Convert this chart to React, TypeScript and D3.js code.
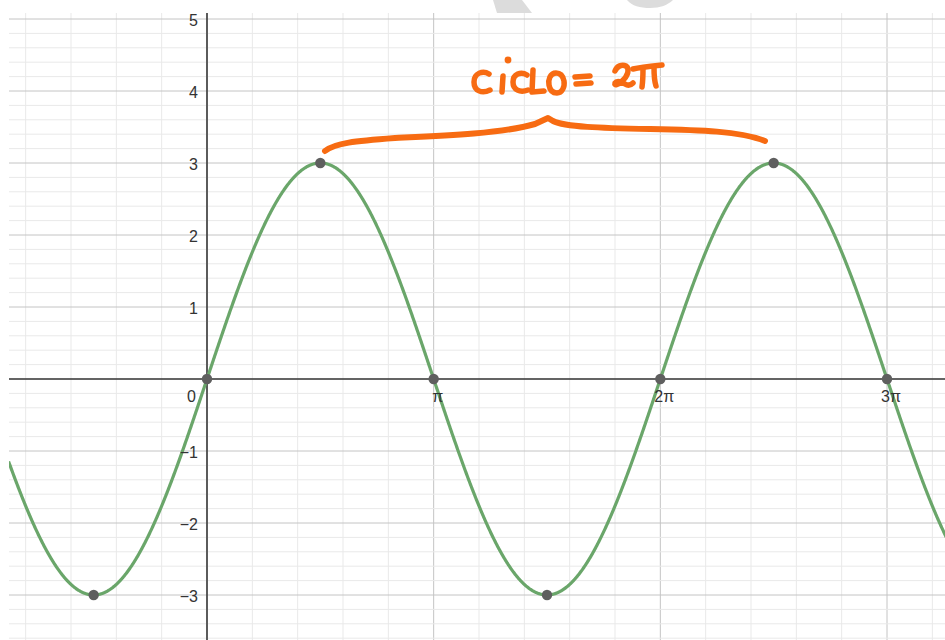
import React from "react";
import * as d3 from "d3";

// y = amplitude · sin(x), plotted over the visible window (x in radians)
const amplitude = 3;
const xWindow = [-2.75, 10.25];

// axis ticks
const xTickMultiplesOfPi = [0, 1, 2, 3];
const xTickLabels = ["0", "π", "2π", "3π"];
const yTickValues = [-3, -2, -1, 1, 2, 3, 4, 5];
const yTickLabels = ["−3", "−2", "−1", "1", "2", "3", "4", "5"];

// highlighted points (x as multiples of π)
const markedXPi = [-0.5, 0, 0.5, 1, 1.5, 2, 2.5, 3];
const markedY = [-3, 0, 3, 0, -3, 0, 3, 0];

const W = 945;
const H = 640;
const plotLeft = 9;
const plotTop = 13;

const x = d3.scaleLinear().domain([0, 3 * Math.PI]).range([207, 887]);
const y = d3.scaleLinear().domain([0, 5]).range([379, 19]);

const gridMinor = "#e9e9e9";
const gridMajor = "#c4c4c4";
const axisColor = "#3a3a3a";
const curveColor = "#6aa66a";
const pointColor = "#5f5f5f";
const inkColor = "#f76b12";
const labelFont = "'Liberation Sans', Arial, sans-serif";

export default function App() {
  const xMinV = x.invert(plotLeft);
  const xMaxV = x.invert(W);
  const yMaxV = y.invert(plotTop);
  const yMinV = y.invert(H);

  // grid: minor lines every π/5 horizontally and 0.2 vertically
  const vMinor: number[] = [];
  for (let k = Math.ceil(xMinV / (Math.PI / 5)); k * (Math.PI / 5) <= xMaxV; k++) vMinor.push(k);
  const hMinor: number[] = [];
  for (let k = Math.ceil(yMinV / 0.2); k * 0.2 <= yMaxV; k++) hMinor.push(k);

  const samples = d3.range(xWindow[0], xWindow[1], 0.005).concat([xWindow[1]]);
  const line = d3
    .line<number>()
    .x((d) => x(d))
    .y((d) => y(amplitude * Math.sin(d)));

  return (
    <div style={{ position: "absolute", left: 0, top: 0 }}>
      <svg width={W} height={H} style={{ display: "block", background: "#fff" }}>
        <defs>
          <clipPath id="plot">
            <rect x={plotLeft} y={plotTop} width={W - plotLeft} height={H - plotTop} />
          </clipPath>
        </defs>

        {/* faint logo shapes in the top margin */}
        <g fill="#dcdcdc">
          <path d="M493,0 L522,0 L532,13 L497,13 Z" />
          <path d="M627,0 C632,6 640,8 650,8 C660,8 668,5 673,0 Z" />
        </g>

        <g clipPath="url(#plot)">
          {vMinor.map((k) => (
            <line
              key={"vm" + k}
              x1={x((k * Math.PI) / 5)}
              x2={x((k * Math.PI) / 5)}
              y1={plotTop}
              y2={H}
              stroke={k % 5 === 0 ? gridMajor : gridMinor}
              strokeWidth={1}
            />
          ))}
          {hMinor.map((k) => (
            <line
              key={"hm" + k}
              x1={plotLeft}
              x2={W}
              y1={y(k * 0.2)}
              y2={y(k * 0.2)}
              stroke={k % 5 === 0 ? gridMajor : gridMinor}
              strokeWidth={1}
            />
          ))}

          {/* axes */}
          <line x1={plotLeft} x2={W} y1={y(0)} y2={y(0)} stroke={axisColor} strokeWidth={1.6} />
          <line x1={x(0)} x2={x(0)} y1={plotTop} y2={H} stroke={axisColor} strokeWidth={1.6} />

          {/* curve */}
          <path d={line(samples) || ""} fill="none" stroke={curveColor} strokeWidth={3.2} />

          {/* marked points */}
          {markedXPi.map((m, i) => (
            <circle key={"p" + i} cx={x(m * Math.PI)} cy={y(markedY[i])} r={5.2} fill={pointColor} />
          ))}
        </g>

        {/* tick labels */}
        <g fontFamily={labelFont} fontSize={16} fill="#333">
          {yTickValues.map((v, i) => (
            <text key={"yl" + v} x={x(0) - 9} y={y(v) + 7} textAnchor="end">
              {yTickLabels[i]}
            </text>
          ))}
          {xTickMultiplesOfPi.map((m, i) =>
            m === 0 ? (
              <text key="xl0" x={x(0) - 11} y={y(0) + 23} textAnchor="end">
                {xTickLabels[i]}
              </text>
            ) : (
              <text key={"xl" + m} x={x(m * Math.PI) + 4} y={y(0) + 23} textAnchor="middle">
                {xTickLabels[i]}
              </text>
            )
          )}
        </g>

        {/* hand-written annotation: one period spans 2π */}
        <g fill="none" stroke={inkColor} strokeLinecap="round" strokeLinejoin="round">
          <path
            strokeWidth={6}
            d="M325,151 C335,143 355,141 395,138 C440,136 500,134 535,124 L548,118 L553,121 C565,127 600,128 650,129 C700,130 740,131 765,141"
          />
          <g strokeWidth={5.5}>
            <path d="M489,74 C483,70 474,73 474,82 C474,91 482,94 490,90" />
            <path d="M503,76 L502,92" />
            <path d="M527,75 C521,71 513,74 513,82 C513,90 520,93 528,90" />
            <path d="M533,70 L532,92 L544,91" />
            <path d="M556,73 C550,73 548,80 549,85 C550,91 553,93 557,93 C562,93 565,87 564,81 C563,76 560,73 556,73 Z" />
            <path d="M575,77 L590,76" />
            <path d="M576,84 L591,83" />
            <path d="M615,71 C617,66 622,64 626,66 C630,69 628,76 622,81 C618,85 614,86 615,83 C617,80 622,82 625,84 C628,86 631,85 633,83" />
            <path d="M633,69 C641,67 652,66 662,65" />
            <path d="M643,68 C643,74 643,80 642,87" />
            <path d="M654,67 C654,74 654,80 656,86" />
          </g>
        </g>
        <circle cx={508} cy={60} r={3.4} fill={inkColor} />
      </svg>
    </div>
  );
}
